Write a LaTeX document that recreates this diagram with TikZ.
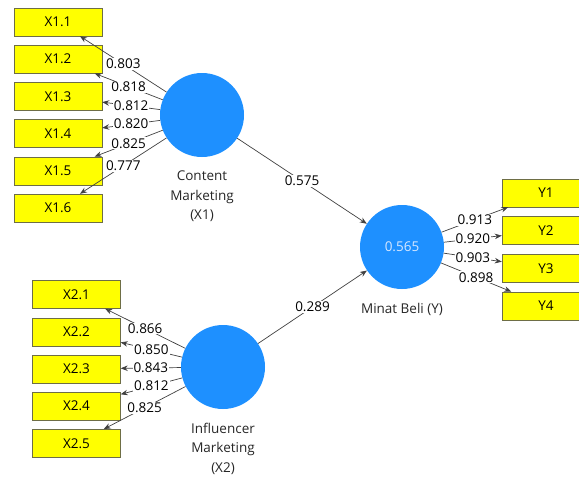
\documentclass[tikz,border=0pt]{standalone}
\usepackage{fontspec}
\setmainfont{Open Sans}
\usetikzlibrary{positioning,arrows.meta}
\definecolor{lvblue}{RGB}{30,144,255}
\definecolor{lvtext}{RGB}{215,232,255}
\definecolor{mvyellow}{RGB}{255,255,0}
\definecolor{mvedge}{RGB}{110,110,70}

\begin{document}
\begin{tikzpicture}[
    x=1pt, y=-1pt,
    node distance=8.8pt,
    latent/.style={circle, fill=lvblue, minimum size=84pt, inner sep=0pt, text=lvtext, font=\fontsize{13.5}{16}\selectfont},
    caption/.style={align=center, inner sep=0pt, text=black!85, font=\fontsize{13.5}{19.5}\selectfont},
    indicator/.style={rectangle, draw=mvedge, fill=mvyellow, minimum width=88pt, minimum height=28pt, inner sep=0pt, font=\fontsize{13.5}{16}\selectfont},
    load/.style={-{Stealth[length=7pt,width=5.5pt]}, draw=black!75, line width=0.7pt},
    coef/.style={fill=white, inner sep=1pt, text=black, font=\fontsize{13.5}{16}\selectfont}
]
    \useasboundingbox (0,0) rectangle (579,479);

    % latent variables
    \node[latent] (cm) at (202,115) {};
    \node[latent] (im) at (223,367) {};
    \node[latent] (mb) at (402,247) {0.565};
    \node[caption, below=13.5pt of cm] (cmlbl) {Content\\Marketing\\(X1)};
    \node[caption, below=13.5pt of im] (imlbl) {Influencer\\Marketing\\(X2)};
    \node[caption, below=14pt of mb] (mblbl) {Minat Beli (Y)};

    % indicators X1
    \node[indicator] (x11) at (58,22) {X1.1};
    \node[indicator, below=of x11] (x12) {X1.2};
    \node[indicator, below=of x12] (x13) {X1.3};
    \node[indicator, below=of x13] (x14) {X1.4};
    \node[indicator, below=of x14] (x15) {X1.5};
    \node[indicator, below=of x15] (x16) {X1.6};

    % indicators X2
    \node[indicator] (x21) at (76.5,294.5) {X2.1};
    \node[indicator, below=of x21] (x22) {X2.2};
    \node[indicator, below=of x22] (x23) {X2.3};
    \node[indicator, below=of x23] (x24) {X2.4};
    \node[indicator, below=of x24] (x25) {X2.5};

    % indicators Y
    \node[indicator] (y1) at (546,193) {Y1};
    \node[indicator, below=9.2pt of y1] (y2) {Y2};
    \node[indicator, below=9.2pt of y2] (y3) {Y3};
    \node[indicator, below=9.2pt of y3] (y4) {Y4};

    % outer loadings
    \draw[load] (cm) -- node[coef] {0.803} (x11);
    \draw[load] (cm) -- node[coef] {0.818} (x12);
    \draw[load] (cm) -- node[coef] {0.812} (x13);
    \draw[load] (cm) -- node[coef] {0.820} (x14);
    \draw[load] (cm) -- node[coef] {0.825} (x15);
    \draw[load] (cm) -- node[coef] {0.777} (x16);

    \draw[load] (im) -- node[coef] {0.866} (x21);
    \draw[load] (im) -- node[coef] {0.850} (x22);
    \draw[load] (im) -- node[coef] {0.843} (x23);
    \draw[load] (im) -- node[coef] {0.812} (x24);
    \draw[load] (im) -- node[coef] {0.825} (x25);

    \draw[load] (mb) -- node[coef] {0.913} (y1);
    \draw[load] (mb) -- node[coef] {0.920} (y2);
    \draw[load] (mb) -- node[coef] {0.903} (y3);
    \draw[load] (mb) -- node[coef] {0.898} (y4);

    % path coefficients
    \draw[load] (cm) -- node[coef] {0.575} (mb);
    \draw[load] (im) -- node[coef] {0.289} (mb);
\end{tikzpicture}
\end{document}
